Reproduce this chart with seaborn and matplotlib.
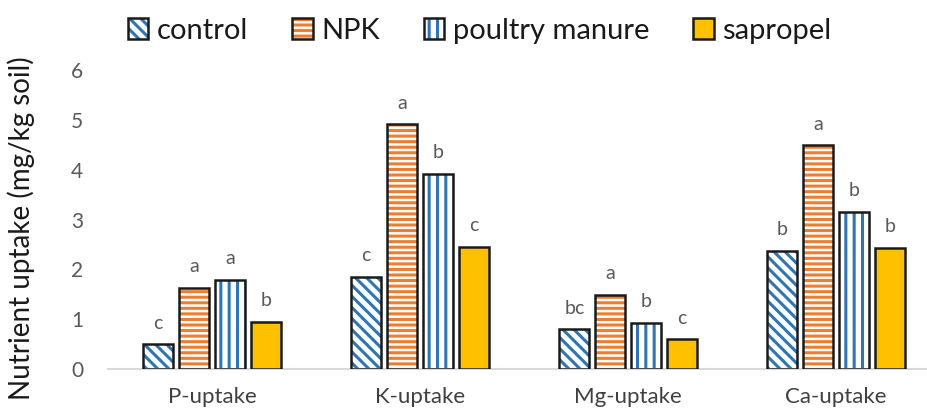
import pandas as pd
import matplotlib
matplotlib.use("Agg")
import matplotlib.pyplot as plt
import seaborn as sns
from matplotlib.patches import Rectangle, Patch
from matplotlib.legend_handler import HandlerTuple

sns.set_theme(style="white")
plt.rcParams['font.family'] = ['Lato', 'DejaVu Sans']
plt.rcParams['hatch.linewidth'] = 2.2

# Data
nutrients = ['P-uptake', 'K-uptake', 'Mg-uptake', 'Ca-uptake']
treatments = ['control', 'NPK', 'poultry manure', 'sapropel']
control = [0.50, 1.85, 0.80, 2.37]
npk = [1.63, 4.91, 1.49, 4.49]
poultry = [1.79, 3.92, 0.93, 3.16]
sapropel = [0.95, 2.45, 0.60, 2.43]
letters_control = ['c', 'c', 'bc', 'b']
letters_npk = ['a', 'a', 'a', 'a']
letters_poultry = ['a', 'b', 'b', 'b']
letters_sapropel = ['b', 'c', 'c', 'b']

values = [control, npk, poultry, sapropel]
letters = [letters_control, letters_npk, letters_poultry, letters_sapropel]

rows = []
for t, vals in zip(treatments, values):
    for n, v in zip(nutrients, vals):
        rows.append({'nutrient': n, 'treatment': t, 'value': v})
df = pd.DataFrame(rows)

# style per treatment: (face, hatch colour, hatch)
styles = {
    'control': ('white', '#2E75B6', '\\\\\\'),
    'NPK': ('white', '#ED7D31', '---'),
    'poultry manure': ('white', '#2E75B6', '||'),
    'sapropel': ('#FFC000', '#FFC000', None),
}

fig = plt.figure(figsize=(9.28, 4.08), dpi=100)
ax = fig.add_axes([0.1165, 0.0956, 0.8966, 0.7328])

sns.barplot(data=df, x='nutrient', y='value', hue='treatment', order=nutrients,
            hue_order=treatments, width=0.69, gap=0.165, legend=False, ax=ax)

handles = []
for cont, t, labs in zip(ax.containers, treatments, letters):
    face, hcol, hatch = styles[t]
    for bar, lab in zip(cont.patches, labs):
        bar.set_facecolor(face)
        bar.set_edgecolor(hcol)
        bar.set_hatch(hatch)
        bar.set_linewidth(0)
        outline = Rectangle(bar.get_xy(), bar.get_width(), bar.get_height(),
                            fill=False, edgecolor='#1a1a1a', linewidth=1.8, zorder=3)
        ax.add_patch(outline)
        ax.annotate(lab, (bar.get_x() + bar.get_width() / 2, bar.get_height()),
                    xytext=(0, 9), textcoords='offset points', ha='center',
                    va='bottom', fontsize=14, color='#595959')
    h1 = Patch(facecolor=face, edgecolor=hcol, hatch=hatch, linewidth=0)
    h2 = Patch(fill=False, edgecolor='#1a1a1a', linewidth=1.8)
    handles.append((h1, h2))

ax.set_xlim(-0.5, 3.5)
ax.set_ylim(0, 6)
ax.set_yticks(range(7))
ax.set_xlabel('')
ax.set_ylabel('Nutrient uptake (mg/kg soil)', fontsize=20, color='#1a1a1a')
ax.yaxis.set_label_coords(-0.088, 0.47)
ax.tick_params(axis='y', length=0, pad=18, labelsize=15, labelcolor='#595959')
ax.tick_params(axis='x', length=0, pad=13, labelsize=16, labelcolor='#404040')
for side in ['top', 'right', 'left']:
    ax.spines[side].set_visible(False)
ax.spines['bottom'].set_color('#D9D9D9')
ax.spines['bottom'].set_linewidth(1.5)

fig.legend(handles, treatments, handler_map={tuple: HandlerTuple(ndivide=1)},
           loc='center', bbox_to_anchor=(0.517, 0.925), ncol=4, frameon=False,
           fontsize=21, handlelength=0.7, handleheight=0.7,
           handletextpad=0.3, columnspacing=1.5, labelcolor='#1a1a1a')

fig.savefig('out.png', dpi=100)
